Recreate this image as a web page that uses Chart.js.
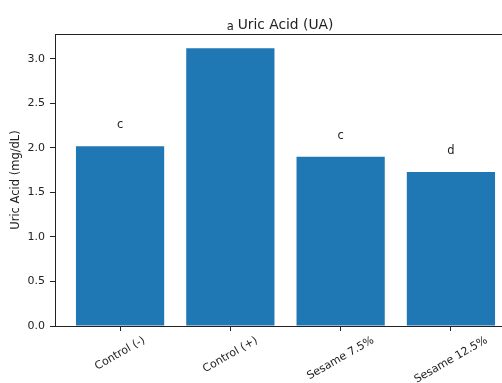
<!DOCTYPE html>
<html>
<head>
<meta charset="utf-8">
<script src="https://cdn.jsdelivr.net/npm/chart.js@4.4.1/dist/chart.umd.min.js"></script>
<style>
  html, body { margin: 0; padding: 0; overflow: hidden; background: #fff; }
  #wrap { width: 518px; height: 383px; }
</style>
</head>
<body>
<div id="wrap"><canvas id="chart" width="518" height="383"></canvas></div>
<script>
// Uric acid per treatment group
const categories = ['Control (-)', 'Control (+)', 'Sesame 7.5%', 'Sesame 12.5%'];
const uricAcid = [2.02, 3.12, 1.90, 1.73];
const groupLetters = ['c', 'a', 'c', 'd'];
const yTicks = [0, 0.5, 1.0, 1.5, 2.0, 2.5, 3.0];
const yMax = 3.28;

const FONT = "'DejaVu Sans', 'Liberation Sans', sans-serif";
const BAR_COLOR = '#1f77b4';
const INK = '#222';

// Draws the title, the significance letters, the top spine and the slanted category labels
const decorations = {
  id: 'decorations',
  afterDraw(chart) {
    const ctx = chart.ctx;
    const area = chart.chartArea;
    const xs = chart.scales.x;
    const ys = chart.scales.y;

    ctx.save();
    // top and right spines
    ctx.strokeStyle = INK;
    ctx.lineWidth = 1;
    ctx.beginPath();
    ctx.moveTo(area.left, area.top + 0.5);
    ctx.lineTo(area.right, area.top + 0.5);
    ctx.moveTo(area.right - 0.5, area.top);
    ctx.lineTo(area.right - 0.5, area.bottom);
    ctx.stroke();

    // title
    ctx.fillStyle = INK;
    ctx.font = '13.8px ' + FONT;
    ctx.textAlign = 'center';
    ctx.textBaseline = 'middle';
    ctx.fillText('Uric Acid (UA)', (area.left + area.right) / 2, 25.5);

    // letters above bars
    ctx.font = '11.5px ' + FONT;
    ctx.textBaseline = 'alphabetic';
    uricAcid.forEach((v, i) => {
      const x = xs.getPixelForValue(i);
      const y = ys.getPixelForValue(v);
      ctx.fillText(groupLetters[i], x, y - 18);
    });

    // slanted category labels, bounding box centred under each tick
    const size = 11;
    ctx.font = size + 'px ' + FONT;
    ctx.textAlign = 'center';
    ctx.textBaseline = 'middle';
    const ang = 30 * Math.PI / 180;
    const top = area.bottom + 8;
    categories.forEach((label, i) => {
      const w = ctx.measureText(label).width;
      const h = size * 1.16;
      const boxH = w * Math.sin(ang) + h * Math.cos(ang);
      const cx = xs.getPixelForValue(i);
      const cy = top + boxH / 2;
      ctx.save();
      ctx.translate(cx, cy);
      ctx.rotate(-ang);
      ctx.fillText(label, 0, 0);
      ctx.restore();
    });
    ctx.restore();
  }
};

new Chart(document.getElementById('chart'), {
  type: 'bar',
  data: {
    datasets: [{
      data: uricAcid.map((v, i) => ({ x: i, y: v })),
      backgroundColor: BAR_COLOR,
      borderWidth: 0,
      barPercentage: 0.8,
      categoryPercentage: 1.0
    }]
  },
  options: {
    responsive: false,
    animation: false,
    devicePixelRatio: 1,
    layout: { padding: { top: 34, right: 2, left: 0, bottom: 0 } },
    plugins: { legend: { display: false }, tooltip: { enabled: false }, title: { display: false } },
    scales: {
      x: {
        type: 'linear',
        offset: false,
        min: -0.59,
        max: 3.59,
        afterBuildTicks: s => { s.ticks = categories.map((c, i) => ({ value: i })); },
        afterFit: s => { s.height = 57; },
        ticks: { display: false },
        grid: { display: true, offset: false, drawOnChartArea: false, tickLength: 5, color: INK, tickWidth: 1 },
        border: { display: true, color: INK, width: 1 }
      },
      y: {
        type: 'linear',
        min: 0,
        max: yMax,
        afterBuildTicks: s => { s.ticks = yTicks.map(v => ({ value: v })); },
        afterFit: s => { s.width = 55; },
        ticks: {
          padding: 5,
          color: INK,
          font: { family: FONT, size: 11 },
          callback: v => Number(v).toFixed(1)
        },
        grid: { display: true, drawOnChartArea: false, tickLength: 5, color: INK, tickWidth: 1 },
        border: { display: true, color: INK, width: 1 },
        title: {
          display: true,
          text: 'Uric Acid (mg/dL)',
          color: INK,
          font: { family: FONT, size: 11.5 },
          padding: { top: 9, bottom: 0 }
        }
      }
    }
  },
  plugins: [decorations]
});
</script>
</body>
</html>
